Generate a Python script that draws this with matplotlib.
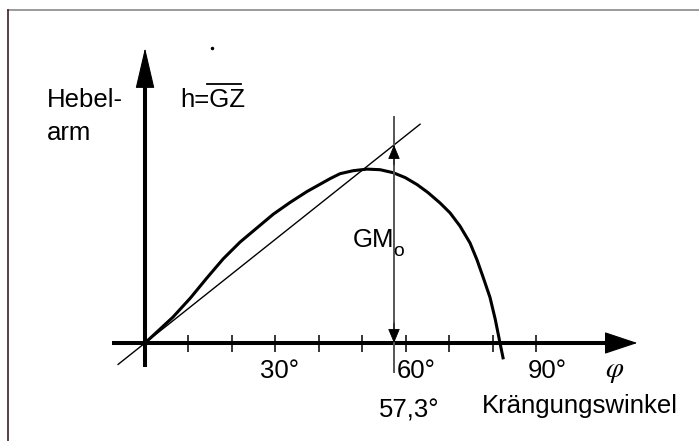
import matplotlib
matplotlib.use("Agg")
import matplotlib.pyplot as plt
from matplotlib.lines import Line2D

plt.rcParams['font.family'] = ['Liberation Sans', 'DejaVu Sans']
fs = 18.5

# righting arm curve (angle in deg, h in units of GM0)
angles = [0, 6.4, 10.4, 14.3, 18.0, 21.9, 25.7, 29.5, 33.4, 37.3, 42.6, 44.9,
          47.9, 51.1, 54.1, 57.1, 59.9, 62.6, 65.1, 67.9, 70.2, 72.5, 74.8,
          76.4, 77.8, 79.4, 80.6, 81.7, 82.4]
gz = [0, 0.13, 0.226, 0.33, 0.425, 0.51, 0.58, 0.65, 0.71, 0.765, 0.83, 0.855,
      0.87, 0.878, 0.875, 0.86, 0.835, 0.80, 0.76, 0.707, 0.657, 0.59, 0.505,
      0.42, 0.333, 0.23, 0.12, 0.0, -0.075]

gm0 = 1.0
phi_gm = 57.3            # 1 rad
tangent_x = [-6.2, 63.3]
tick_deg = [10, 20, 30, 40, 50, 60, 70, 80, 90]
tick_labels = {30: '30°', 60: '60°', 90: '90°'}

fig = plt.figure(figsize=(6.99, 4.41), dpi=100)
ax = fig.add_axes([0, 0, 1, 1])
ax.set_xlim(-33.38, 127.5)
ax.set_ylim(-0.495, 1.732)
ax.axis('off')

# frame (only top and left visible)
fig.add_artist(Line2D([0.0114, 1.0], [0.977, 0.977], color='#8a8a8a', lw=1.2))
fig.add_artist(Line2D([0.0114, 0.0114], [0.0, 0.977], color='#3a2025', lw=1.2))

# axes with arrows
ax.plot([-7.6, 107], [0, 0], color='black', lw=2.9, solid_capstyle='butt')
ax.annotate('', xy=(113.3, 0), xytext=(106, 0),
            arrowprops=dict(arrowstyle='-|>,head_length=1.08,head_width=0.36',
                            mutation_scale=20, lw=0.8, color='black',
                            shrinkA=0, shrinkB=0))
ax.plot([0, 0], [-0.12, 1.33], color='black', lw=2.9, solid_capstyle='butt')
ax.annotate('', xy=(0, 1.49), xytext=(0, 1.3),
            arrowprops=dict(arrowstyle='-|>,head_length=1.33,head_width=0.31',
                            mutation_scale=20, lw=0.8, color='black',
                            shrinkA=0, shrinkB=0))
ax.vlines(tick_deg, -0.045, 0.04, color='black', lw=1.1)

# tangent at origin and GZ curve
ax.plot(tangent_x, [x / phi_gm * gm0 for x in tangent_x], color='black', lw=1.0)
ax.plot(angles, gz, color='black', lw=2.2, solid_joinstyle='round')

# GM0 marker at 1 rad
ax.plot([phi_gm, phi_gm], [-0.146, 1.14], color='#555555', lw=1.4)
for tip, base in [(gm0, gm0 - 0.1), (0.0, 0.1)]:
    ax.annotate('', xy=(phi_gm, tip), xytext=(phi_gm, base),
                arrowprops=dict(arrowstyle='-|>,head_length=0.6,head_width=0.25',
                                mutation_scale=15, lw=0.6, color='black',
                                shrinkA=0, shrinkB=0))

ax.text(-22.56, 1.19, 'Hebel-', fontsize=fs, va='baseline')
ax.text(-22.56, 1.025, 'arm', fontsize=fs, va='baseline')
ax.text(8.06, 1.19, 'h=GZ', fontsize=fs, va='baseline')
ax.plot([14.3, 22.1], [1.31, 1.31], color='black', lw=1.3)
ax.plot([15.4], [1.49], marker='o', ms=1.5, color='black')

ax.text(47.9, 0.485, 'GM', fontsize=fs, va='baseline')
ax.text(57.2, 0.44, 'o', fontsize=fs * 0.75, va='baseline')

offs = {30: 1.0, 60: 2.5, 90: 2.5}
for d, lab in tick_labels.items():
    ax.text(d + offs[d], -0.177, lab, fontsize=fs, ha='center', va='baseline')
ax.text(60.8, -0.374, '57,3°', fontsize=fs, ha='center', va='baseline')
ax.text(77.6, -0.354, 'Krängungswinkel', fontsize=fs, va='baseline')
ax.text(108, -0.14, r'$\varphi$', fontsize=21, ha='center', va='center',
        math_fontfamily='stix')

fig.savefig('out.png', dpi=100)
